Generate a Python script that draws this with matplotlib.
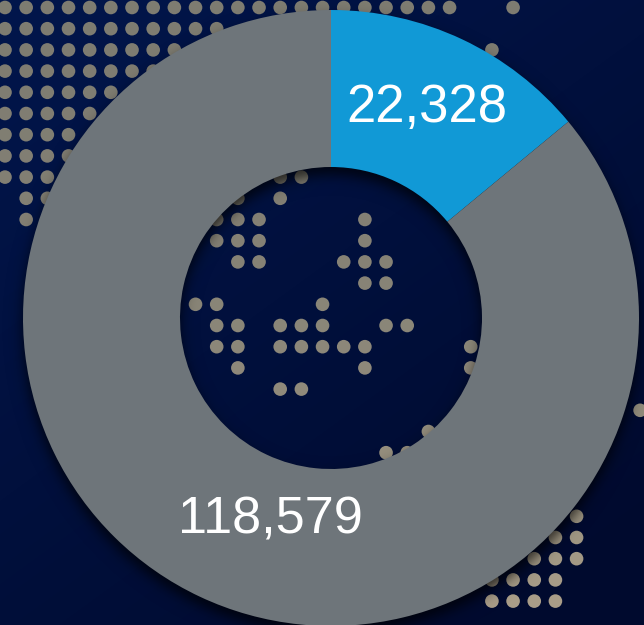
import numpy as np
import matplotlib
matplotlib.use("Agg")
import matplotlib.pyplot as plt

# ---- data ----
slice_labels = ["22,328", "118,579"]
slice_shares = [14, 86]               # drawn share of the ring, as measured on the picture
slice_colors = ["#1199d6", "#6e757a"]

# dot-map background: row -> occupied columns
map_rows = {
    0: list(range(0, 22)) + [24],
    1: list(range(0, 11)),
    2: list(range(0, 9)) + [23],
    3: list(range(0, 8)),
    4: list(range(0, 6)),
    5: list(range(0, 5)),
    6: list(range(0, 4)),
    7: list(range(0, 4)),
    8: [0, 1, 2, 13, 14],
    9: [1, 2, 11, 13],
    10: [1, 10, 11, 12, 17],
    11: [10, 11, 12, 17],
    12: [11, 12, 16, 17, 18],
    13: [17, 18],
    14: [9, 10, 15],
    15: [10, 11, 13, 14, 15, 18, 19],
    16: [10, 11, 13, 14, 15, 16, 17, 22],
    17: [11, 17, 22],
    18: [13, 14],
    19: [30],
    20: [20],
    21: [18, 19],
    24: [27],
    25: [26, 27],
    26: [25, 26, 27],
    27: [23, 24, 25, 26],
    28: [23, 24, 25, 26],
}

W, H = 644, 625
CX, CY, R_OUT, R_IN = 331, 307, 308, 151
PITCH_X, PITCH_Y, X0, Y0 = 21.17, 21.2, 5.0, 7.5

fig = plt.figure(figsize=(W / 100, H / 100), dpi=100)
ax = fig.add_axes([0, 0, 1, 1])
ax.set_axis_off()

# background gradient
yy, xx = np.mgrid[0:H, 0:W]
t = np.clip((xx / W * 0.75 + yy / H) / 1.6, 0, 1)[..., None]
top = np.array([2, 22, 76]) / 255
bot = np.array([0, 10, 46]) / 255
ax.imshow(top * (1 - t) + bot * t, extent=(0, W, 0, H), origin="upper", zorder=0, aspect="auto")

# dots
xs, ys, cs = [], [], []
for row, cols in map_rows.items():
    for col in cols:
        px = X0 + col * PITCH_X
        py = Y0 + row * PITCH_Y
        k = (py / H) ** 2.0
        xs.append(px)
        ys.append(H - py)
        cs.append((np.array([126, 124, 113]) * (1 - k) + np.array([172, 160, 138]) * k) / 255)
ax.scatter(xs, ys, s=96, c=cs, linewidths=0, zorder=1)

# soft drop shadow of the ring (offset downwards)
d = np.hypot(xx + 0.5 - CX, yy + 0.5 - (H - CY + 8))
outside = np.maximum(d - R_OUT, R_IN - d)
alpha = 0.72 * 0.5 * (1 - np.tanh(outside / 8.0))
shadow = np.zeros((H, W, 4))
shadow[..., 3] = alpha
ax.imshow(shadow, extent=(0, W, 0, H), origin="upper", zorder=2, aspect="auto")

# ring
wedges, _ = ax.pie(
    slice_shares, colors=slice_colors, startangle=90, counterclock=False,
    center=(CX, CY), radius=R_OUT, frame=True,
    wedgeprops=dict(width=R_OUT - R_IN, linewidth=0),
)
for w in wedges:
    w.set_zorder(3)

ax.set_xlim(0, W)
ax.set_ylim(0, H)
ax.set_aspect("auto")
ax.set_axis_off()

ax.text(427, H - 121.7, slice_labels[0], color="white", fontsize=38, family="Liberation Sans",
        ha="center", va="baseline", zorder=4)
ax.text(270, H - 534, slice_labels[1], color="white", fontsize=37.5, family="Liberation Sans",
        ha="center", va="baseline", zorder=4)

fig.savefig("out.png", dpi=100)
